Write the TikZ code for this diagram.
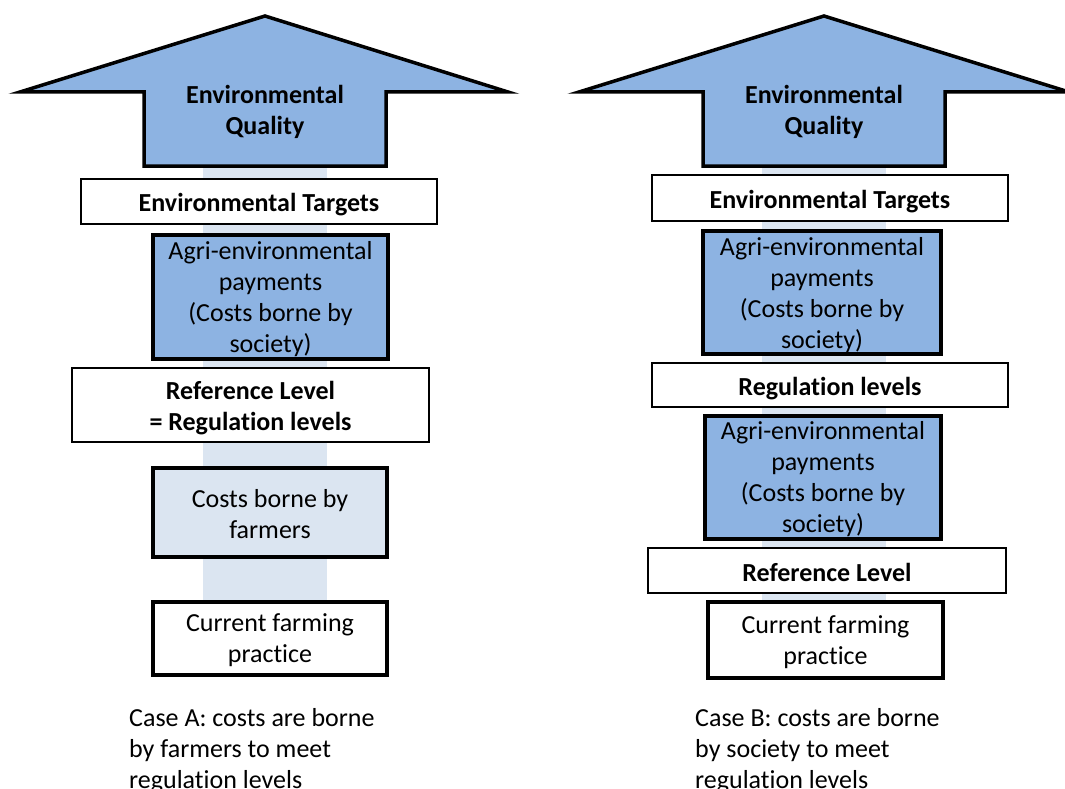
\documentclass[tikz,border=0pt]{standalone}
\usepackage{fontspec}
\setmainfont{Carlito}[Ligatures=NoCommon]
\definecolor{midblue}{HTML}{8DB3E2}
\definecolor{paleblue}{HTML}{DBE5F1}
\begin{document}
\begin{tikzpicture}[x=1pt,y=-1pt,
  every node/.style={font=\fontsize{26}{31}\selectfont, align=center, inner sep=0pt},
  thinbox/.style={draw=black, line width=1.5pt, fill=white},
  thickbox/.style={draw=black, line width=4pt},
  paybox/.style={thickbox, fill=midblue},
  costbox/.style={thickbox, fill=paleblue},
  plainbox/.style={thickbox, fill=white},
  boldtxt/.style={font=\fontsize{26}{31}\selectfont\bfseries, yshift=-3.5pt},
  plaintxt/.style={yshift=-2pt},
  bigarrow/.style={draw=black, line width=3.5pt, fill=midblue, line join=miter, miter limit=10},
  band/.style={fill=paleblue, draw=none},
  caption/.style={align=left, anchor=north west}
]
\useasboundingbox (0,0) rectangle (1065,789);
\fill[white] (0,0) rectangle (1065,789);

% light bands behind the boxes
\path[band] (203,166) rectangle (327,600);
\path[band] (762,166) rectangle (886,600);

% Case A arrow
\path[bigarrow] (20,92) -- (265,16) -- (508,92) -- (386,92) -- (386,166) -- (144,166) -- (144,92) -- cycle;
\node[boldtxt, yshift=1.5pt] (eqA) at (265,110) {Environmental\\Quality};

% Case B arrow
\path[bigarrow] (579,92) -- (824,16) -- (1069,92) -- (945,92) -- (945,166) -- (703,166) -- (703,92) -- cycle;
\node[boldtxt, yshift=1.5pt] (eqB) at (824,110) {Environmental\\Quality};

% Case A boxes
\node[thinbox, minimum width=356pt, minimum height=45pt] (etA) at (259,201.5) {};
\node[boldtxt] (etAt) at (etA.center) {Environmental Targets};
\node[paybox, minimum width=235pt, minimum height=124pt] (agA) at (270.5,297) {};
\node[plaintxt] (agAt) at (agA.center) {Agri-environmental\\payments\\(Costs borne by\\society)};
\node[thinbox, minimum width=357pt, minimum height=74pt] (rlA) at (250.5,405) {};
\node[boldtxt] (rlAt) at (rlA.center) {Reference Level\\= Regulation levels};
\node[costbox, minimum width=234pt, minimum height=89pt] (cbA) at (270,512.5) {};
\node[plaintxt] (cbAt) at (cbA.center) {Costs borne by\\farmers};
\node[plainbox, minimum width=234pt, minimum height=73pt] (cfA) at (270,638.5) {};
\node[plaintxt] (cfAt) at (cfA.center) {Current farming\\practice};

% Case B boxes
\node[thinbox, minimum width=356pt, minimum height=46pt] (etB) at (830,198) {};
\node[boldtxt] (etBt) at (etB.center) {Environmental Targets};
\node[paybox, minimum width=238pt, minimum height=123pt] (agB1) at (822,292.5) {};
\node[plaintxt, yshift=-1pt] (agB1t) at (agB1.center) {Agri-environmental\\payments\\(Costs borne by\\society)};
\node[thinbox, minimum width=356pt, minimum height=44pt] (rgB) at (830,385) {};
\node[boldtxt] (rgBt) at (rgB.center) {Regulation levels};
\node[paybox, minimum width=236pt, minimum height=123pt] (agB2) at (823,477.5) {};
\node[plaintxt] (agB2t) at (agB2.center) {Agri-environmental\\payments\\(Costs borne by\\society)};
\node[thinbox, minimum width=358pt, minimum height=45pt] (rlB) at (827,570.5) {};
\node[boldtxt, yshift=1.5pt] (rlBt) at (rlB.center) {Reference Level};
\node[plainbox, minimum width=235pt, minimum height=76pt] (cfB) at (825.5,640) {};
\node[plaintxt] (cfBt) at (cfB.center) {Current farming\\practice};

% captions
\node[caption] (capA) at (129,708) {Case A: costs are borne\\by farmers to meet\\regulation levels};
\node[caption] (capB) at (695,708) {Case B: costs are borne\\by society to meet\\regulation levels};
\end{tikzpicture}
\end{document}
